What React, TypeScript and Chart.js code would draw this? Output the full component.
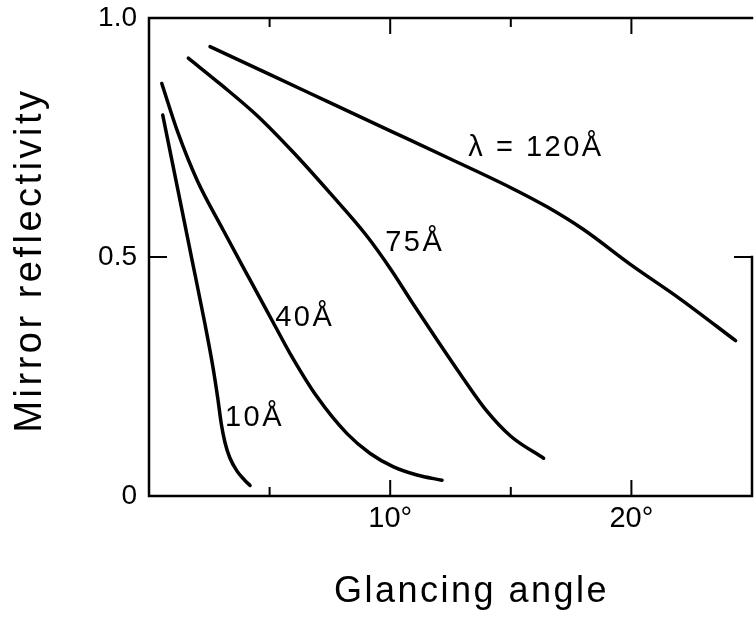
import React, { useEffect, useRef } from 'react';
import { Chart, registerables } from 'chart.js';

Chart.register(...registerables);

// ---- data ----
const ANGLE_10 = [0.57, 1.2, 1.8, 2.3, 2.65, 2.85, 3.0, 3.15, 3.35, 3.65, 3.95, 4.19];
const REFL_10 = [0.797, 0.64, 0.49, 0.365, 0.27, 0.205, 0.15, 0.112, 0.08, 0.052, 0.034, 0.022];

const ANGLE_40 = [0.53, 1.2, 2.0, 3.08, 4.19, 5.16, 5.85, 6.96, 8.2, 9.17, 10.14, 11.11, 12.15];
const REFL_40 = [0.863, 0.76, 0.66, 0.556, 0.452, 0.362, 0.298, 0.208, 0.131, 0.089, 0.061, 0.044, 0.033];

const ANGLE_75 = [1.63, 3.0, 4.5, 6.0, 7.5, 9.0, 10.0, 11.0, 12.0, 13.0, 14.0, 15.0, 16.36];
const REFL_75 = [0.916, 0.86, 0.795, 0.718, 0.634, 0.546, 0.476, 0.398, 0.322, 0.248, 0.178, 0.125, 0.079];

const ANGLE_120 = [2.53, 5.0, 7.5, 10.0, 12.5, 15.0, 16.5, 18.0, 20.0, 22.0, 24.32];
const REFL_120 = [0.94, 0.882, 0.823, 0.764, 0.705, 0.645, 0.605, 0.558, 0.483, 0.413, 0.325];

const CURVE_LABELS = ['λ = 120Å', '75Å', '40Å', '10Å'];
const LABEL_X = [13.24, 9.79, 5.23, 3.15];
const LABEL_Y = [0.727, 0.53, 0.372, 0.163];

const X_LABEL_TICKS = [10, 20];
const X_TICK_LABELS = ['10°', '20°'];
const X_MINOR_TICKS = [5, 15];
const Y_LABEL_TICKS = [0, 0.5, 1.0];
const Y_TICK_LABELS = ['0', '0.5', '1.0'];
const Y_MID_TICKS = [0.5];

const X_TITLE = 'Glancing angle';
const Y_TITLE = 'Mirror reflectivity';

const FONT = '"Liberation Sans", Arial, Helvetica, sans-serif';

const toPoints = (xs: number[], ys: number[]) => xs.map((x, i) => ({ x, y: ys[i] }));

const decorPlugin = {
  id: 'decor',
  afterDatasetsDraw(chart: any) {
    const { ctx, chartArea: a, scales } = chart;
    const x = scales.x;
    const y = scales.y;
    ctx.save();
    ctx.strokeStyle = '#000';
    ctx.lineWidth = 2.5;
    ctx.lineCap = 'square';
    ctx.beginPath();
    ctx.moveTo(a.left, a.top);
    ctx.lineTo(a.right, a.top);
    ctx.moveTo(a.left, a.top);
    ctx.lineTo(a.left, a.bottom);
    ctx.lineTo(a.right, a.bottom);
    ctx.moveTo(a.right, y.getPixelForValue(Y_MID_TICKS[0]));
    ctx.lineTo(a.right, a.bottom);
    ctx.stroke();

    ctx.lineWidth = 2;
    ctx.lineCap = 'butt';
    ctx.beginPath();
    const major = 16;
    const minor = 9;
    X_LABEL_TICKS.forEach((v) => {
      const px = x.getPixelForValue(v);
      ctx.moveTo(px, a.bottom);
      ctx.lineTo(px, a.bottom - major);
      ctx.moveTo(px, a.top);
      ctx.lineTo(px, a.top + major);
    });
    X_MINOR_TICKS.forEach((v) => {
      const px = x.getPixelForValue(v);
      ctx.moveTo(px, a.bottom);
      ctx.lineTo(px, a.bottom - minor);
      ctx.moveTo(px, a.top);
      ctx.lineTo(px, a.top + minor);
    });
    Y_MID_TICKS.forEach((v) => {
      const py = y.getPixelForValue(v);
      ctx.moveTo(a.left, py);
      ctx.lineTo(a.left + 18, py);
      ctx.moveTo(a.right, py);
      ctx.lineTo(a.right - 18, py);
    });
    ctx.stroke();

    // curve labels
    ctx.fillStyle = '#000';
    ctx.font = `29px ${FONT}`;
    (ctx as any).letterSpacing = '2.5px';
    ctx.textAlign = 'left';
    ctx.textBaseline = 'middle';
    CURVE_LABELS.forEach((t, i) => {
      ctx.fillText(t, x.getPixelForValue(LABEL_X[i]), y.getPixelForValue(LABEL_Y[i]));
    });

    // axis titles
    ctx.textAlign = 'center';
    ctx.textBaseline = 'alphabetic';
    ctx.font = `36px ${FONT}`;
    (ctx as any).letterSpacing = '2.5px';
    ctx.fillText(X_TITLE, (a.left + a.right) / 2 + 21, 602);

    ctx.save();
    ctx.translate(31, (a.top + a.bottom) / 2 + 3);
    ctx.rotate(-Math.PI / 2);
    ctx.font = `38px ${FONT}`;
    (ctx as any).letterSpacing = '3.5px';
    ctx.textBaseline = 'middle';
    ctx.fillText(Y_TITLE, 0, 0);
    ctx.restore();

    ctx.restore();
  },
};

export default function App() {
  const ref = useRef<HTMLCanvasElement | null>(null);

  useEffect(() => {
    if (!ref.current) return;
    const line = (xs: number[], ys: number[]) => ({
      data: toPoints(xs, ys),
      borderColor: '#000',
      borderWidth: 3.5,
      pointRadius: 0,
      fill: false,
      cubicInterpolationMode: 'monotone' as const,
      borderCapStyle: 'round' as const,
      borderJoinStyle: 'round' as const,
    });
    const chart = new Chart(ref.current, {
      type: 'line',
      data: {
        datasets: [
          line(ANGLE_120, REFL_120),
          line(ANGLE_75, REFL_75),
          line(ANGLE_40, REFL_40),
          line(ANGLE_10, REFL_10),
        ],
      },
      options: {
        animation: false,
        responsive: false,
        layout: { padding: { top: 18, right: 2, left: 0, bottom: 0 } },
        plugins: { legend: { display: false }, tooltip: { enabled: false } },
        scales: {
          x: {
            type: 'linear',
            min: 0,
            max: 25,
            grid: { display: false, drawTicks: false },
            border: { display: false },
            ticks: {
              color: '#000',
              font: { family: FONT, size: 29 },
              padding: 6,
              maxRotation: 0,
              callback: (_v: any, i: number) => X_TICK_LABELS[i],
            },
            afterBuildTicks: (s: any) => {
              s.ticks = X_LABEL_TICKS.map((v) => ({ value: v }));
            },
            afterFit: (s: any) => {
              s.height = 135;
              s.paddingLeft = 0;
              s.paddingRight = 0;
            },
          },
          y: {
            type: 'linear',
            min: 0,
            max: 1,
            grid: { display: false, drawTicks: false },
            border: { display: false },
            ticks: {
              color: '#000',
              font: { family: FONT, size: 28 },
              padding: 12,
              callback: (_v: any, i: number) => Y_TICK_LABELS[i],
            },
            afterBuildTicks: (s: any) => {
              s.ticks = Y_LABEL_TICKS.map((v) => ({ value: v }));
            },
            afterFit: (s: any) => {
              s.width = 149;
              s.paddingTop = 0;
              s.paddingBottom = 0;
            },
          },
        },
      },
      plugins: [decorPlugin],
    });
    return () => chart.destroy();
  }, []);

  return (
    <div style={{ position: 'absolute', left: 0, top: 0, width: 754, height: 631, background: '#fff' }}>
      <canvas ref={ref} width={754} height={631} style={{ display: 'block' }} />
    </div>
  );
}
